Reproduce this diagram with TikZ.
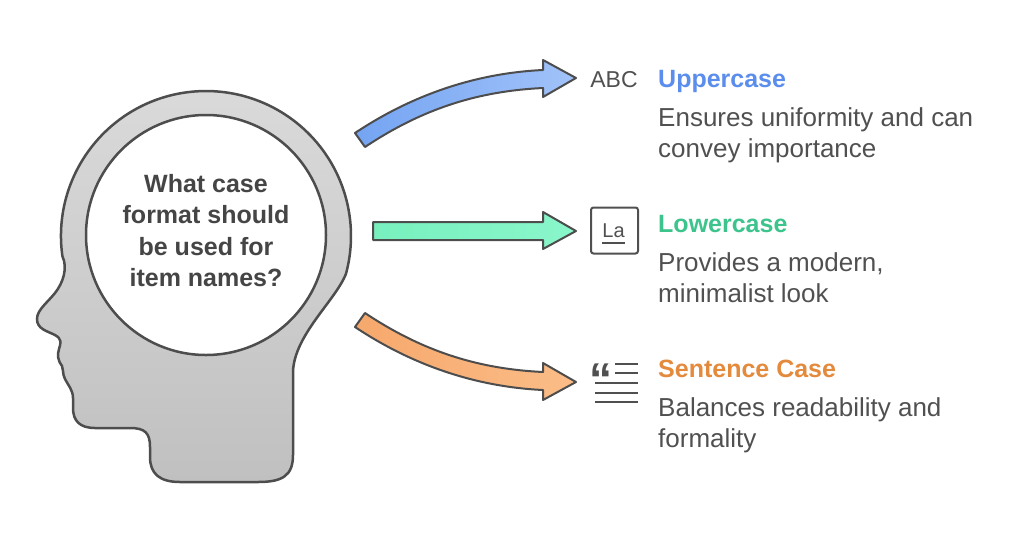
\documentclass[tikz,border=0pt]{standalone}
\usepackage{fontspec}
\setmainfont{Liberation Sans}
\usetikzlibrary{calc}

\definecolor{outline}{HTML}{4D4D4D}
\definecolor{inktext}{HTML}{505050}
\definecolor{headtop}{HTML}{DADADA}
\definecolor{headbot}{HTML}{C0C0C0}
\definecolor{upblue}{HTML}{5B8DEC}
\definecolor{lowgreen}{HTML}{3DC48C}
\definecolor{sentorange}{HTML}{E48A3C}
\definecolor{bluefillA}{HTML}{74A4F2}
\definecolor{bluefillB}{HTML}{A2C3F9}
\definecolor{greenfillA}{HTML}{78F0BE}
\definecolor{greenfillB}{HTML}{8AF6CB}
\definecolor{orangefillA}{HTML}{F6A86C}
\definecolor{orangefillB}{HTML}{FBBD88}

\tikzset{
  blockarrow/.style={draw=outline, line width=2, line join=round},
  title/.style={font=\bfseries\fontsize{25}{30}\selectfont, inner sep=0, anchor=base west},
  desc/.style={font=\fontsize{26}{31}\selectfont, text=inktext, align=left, inner sep=0, anchor=base west},
  icontext/.style={text=inktext, inner sep=0, anchor=base},
  iconline/.style={draw=inktext, line width=2},
}

\begin{document}
\begin{tikzpicture}[x=1pt, y=1pt, yscale=-1]
		%%%%% START %%%%%
		\useasboundingbox (0, 0) rectangle (1024, 536);

		% head
		\draw[line width=2.5, draw=outline, top color=headtop, bottom color=headbot]
			(62.4, 256.2) arc[start angle=172, end angle=375, radius=145]
			.. controls (336, 300) and (294, 335) .. (293, 372)
			-- (293, 455) .. controls (293, 476) and (282, 482) .. (258, 482)
			-- (180, 482) .. controls (160, 482) and (150, 474) .. (150, 457)
			-- (150, 447) .. controls (150, 433) and (145, 428) .. (130, 428)
			-- (95, 428) .. controls (80, 428) and (73, 421) .. (73, 408)
			-- (73, 398) .. controls (73, 390) and (68, 385) .. (65, 379)
			.. controls (62, 373) and (64, 370) .. (62, 366)
			.. controls (58, 361) and (57, 355) .. (59, 349)
			.. controls (61, 343) and (62, 339) .. (55, 335)
			.. controls (47, 331) and (37, 329) .. (37, 319)
			.. controls (37, 310) and (47, 303) .. (55, 293)
			.. controls (63, 283) and (68, 268) .. (62.4, 256.2) -- cycle;

		\node[circle, draw=outline, line width=2.5, fill=white, minimum size=240, inner sep=0] (mind) at (206, 235) {};
		\node[font=\bfseries\fontsize{25}{31.5}\selectfont, text=outline!90!black, align=center] (ask) at (206, 230.5)
			{What case\\format should\\be used for\\item names?};

		% arrows
		\filldraw[blockarrow, left color=bluefillA, right color=bluefillB]
			(355, 133) .. controls (415, 93) and (479, 73) .. (543, 70)
			-- (543, 60) -- (576, 78) -- (543, 97) -- (543, 88)
			.. controls (481, 91) and (425, 107) .. (365, 147) -- cycle;

		\filldraw[blockarrow, left color=greenfillA, right color=greenfillB]
			(373, 222) -- (543, 222) -- (543, 212) -- (576, 231) -- (543, 249) -- (543, 240) -- (373, 240) -- cycle;

		\filldraw[blockarrow, left color=orangefillA, right color=orangefillB]
			(355, 327) .. controls (415, 367) and (479, 387) .. (543, 390)
			-- (543, 400) -- (576, 382) -- (543, 363) -- (543, 372)
			.. controls (481, 369) and (425, 353) .. (365, 313) -- cycle;

		% icons
		\node[icontext, font=\fontsize{23}{26}\selectfont] (abc) at (614, 87) {ABC};

		\node[draw=inktext, line width=2, rounded corners=2.5, minimum width=47, minimum height=46, inner sep=0] (labox) at (614.5, 230.5) {};
		\node[icontext, font=\fontsize{20}{24}\selectfont] (la) at (613.5, 237) {La};
		\draw[iconline] (602, 243) -- (625, 243);

		\node[text=inktext, font=\bfseries\fontsize{46}{46}\selectfont, inner sep=0, anchor=north] (quote) at (601, 364) {“};
		\foreach \y in {364, 373}
			\draw[iconline] (615, \y) -- (638, \y);
		\foreach \y in {383, 393, 402}
			\draw[iconline] (595, \y) -- (638, \y);

		% labels
		\node[title, text=upblue] (upper) at (658, 87) {Uppercase};
		\node[desc] (upperdesc) at (658, 157) {Ensures uniformity and can\\convey importance};

		\node[title, text=lowgreen] (lower) at (658, 232) {Lowercase};
		\node[desc] (lowerdesc) at (658, 302) {Provides a modern,\\minimalist look};

		\node[title, text=sentorange] (sentence) at (658, 377) {Sentence Case};
		\node[desc] (sentencedesc) at (658, 447) {Balances readability and\\formality};
		%%%%% END %%%%%
\end{tikzpicture}
\end{document}
